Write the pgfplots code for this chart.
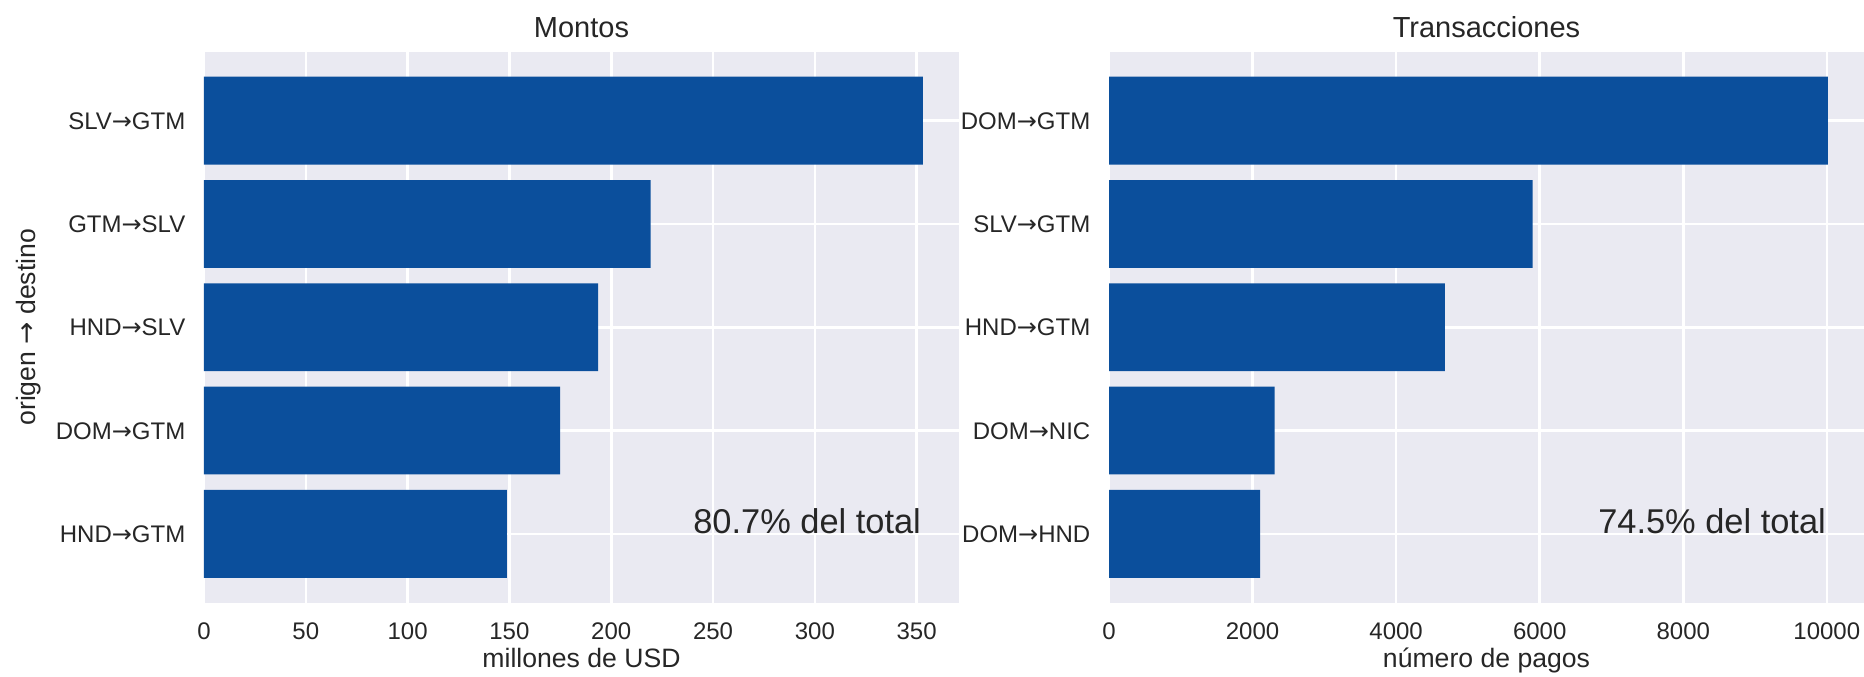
\documentclass[border=0pt]{standalone}
\usepackage{fontspec}
\setmainfont{Liberation Sans}
\newfontfamily\dejavu{DejaVu Sans}
\newcommand{\ar}{{\dejavu →}}
\usepackage{pgfplots}
\pgfplotsset{compat=1.18}
\definecolor{barblue}{RGB}{11,79,156}
\definecolor{bgc}{RGB}{234,234,242}
\definecolor{txt}{RGB}{38,38,38}
\pgfplotsset{every axis title shift=0pt}
\pgfplotsset{sbstyle/.style={
  scale only axis, width=377.5pt, height=275.55pt, anchor=south west,
  axis background/.style={fill=bgc},
  axis line style={draw=none},
  major tick length=0pt,
  grid=major, grid style={white, line width=1.3pt},
  ymin=-0.6675, ymax=4.6675, ytick={0,1,2,3,4},
  xmin=0,
  scaled x ticks=false,
  /pgf/number format/assume math mode=true,
  /pgf/number format/1000 sep={},
  tick label style={color=txt, font=\fontsize{12}{14}\selectfont},
  xticklabel style={anchor=base, inner sep=0pt, yshift=-18.35pt},
  yticklabel style={anchor=base east, inner sep=0pt, xshift=-9.15pt, yshift=-4.3pt},
  title style={font=\fontsize{14.5}{17}\selectfont, color=txt, at={(axis description cs:0.5,1.02613)}, anchor=base, inner sep=0pt},
  xlabel style={font=\fontsize{13.3}{16}\selectfont, color=txt, at={(axis description cs:0.5,-0.1175)}, anchor=base, inner sep=0pt},
  ylabel style={font=\fontsize{13.3}{16}\selectfont, color=txt, at={(axis description cs:-0.22291,0.5)}, anchor=base, inner sep=0pt},
  xbar, bar width=0.85,
}}
\begin{document}
\begin{tikzpicture}
\useasboundingbox (0,0) rectangle (932pt,338pt);
\begin{axis}[sbstyle, at={(102pt,36.6pt)}, xmax=370.8, xtick={0,50,...,350},
  yticklabels={HND\ar GTM, DOM\ar GTM, HND\ar SLV, GTM\ar SLV, SLV\ar GTM},
  title={Montos}, xlabel={millones de USD}, ylabel={origen \ar\ destino}]
\addplot[fill=barblue, draw=none] coordinates {(148.8,0) (174.9,1) (193.6,2) (219.4,3) (353.1,4)};
\node[anchor=base east, font=\fontsize{17.2}{20}\selectfont, text=txt, inner sep=0pt] at (axis cs:352.3,0) {80.7\% del total};
\end{axis}
\begin{axis}[sbstyle, at={(554.5pt,36.6pt)}, xmax=10518, xtick={0,2000,...,10000},
  yticklabels={DOM\ar HND, DOM\ar NIC, HND\ar GTM, SLV\ar GTM, DOM\ar GTM},
  title={Transacciones}, xlabel={número de pagos}]
\addplot[fill=barblue, draw=none] coordinates {(2104,0) (2307,1) (4680,2) (5903,3) (10014,4)};
\node[anchor=base east, font=\fontsize{17.2}{20}\selectfont, text=txt, inner sep=0pt] at (axis cs:9992,0) {74.5\% del total};
\end{axis}
\end{tikzpicture}
\end{document}
